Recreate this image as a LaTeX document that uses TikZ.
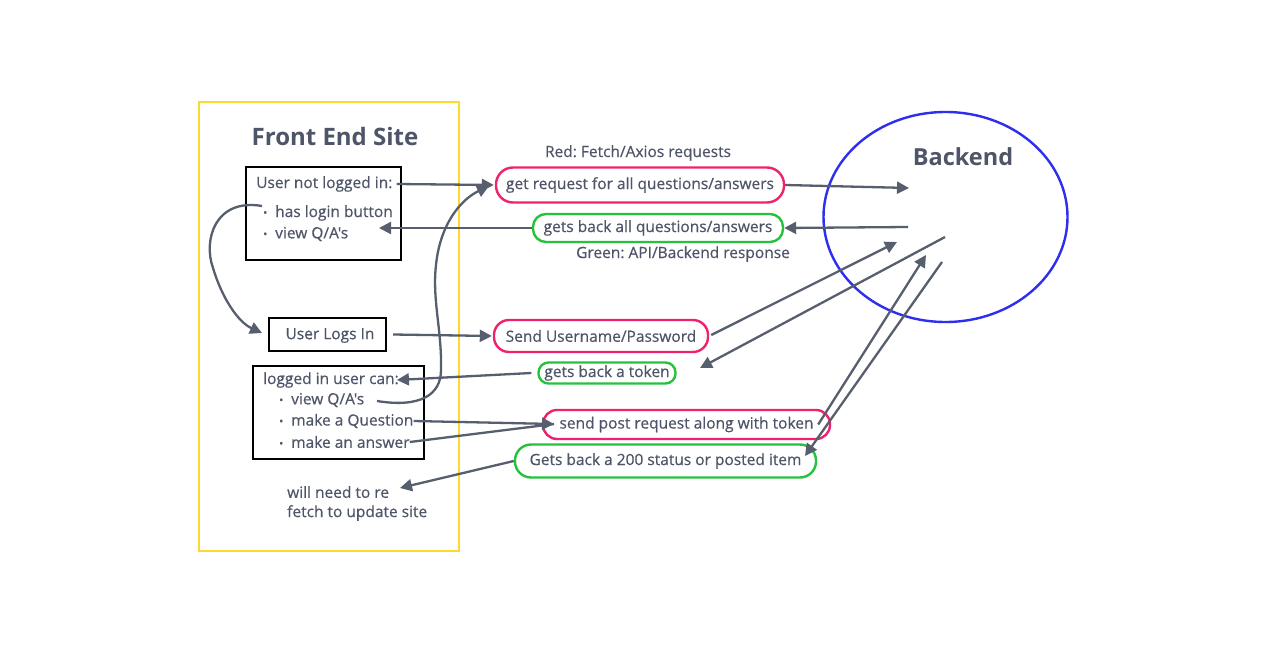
\documentclass[tikz,border=0pt]{standalone}
\usepackage{fontspec}
\setmainfont{Open Sans}
\newfontfamily\lblfont{Open Sans}[FakeBold=0.5]
\frenchspacing
\usetikzlibrary{arrows.meta,positioning,shapes.geometric}
\definecolor{txt}{HTML}{4F5568}
\definecolor{ln}{HTML}{575E6E}
\definecolor{ylw}{HTML}{FCD92C}
\definecolor{rd}{HTML}{F0226C}
\definecolor{gr}{HTML}{26C23C}
\definecolor{bl}{HTML}{2E2EEE}
\tikzset{
  lbl/.style={text=txt,inner sep=0pt,font=\lblfont\fontsize{15.5}{15.5}\selectfont},
  ttl/.style={text=txt,inner sep=0pt,font=\fontsize{24}{24}\selectfont\bfseries},
  blackbox/.style={draw=black,line width=2.4pt,inner sep=0pt},
  redpill/.style={draw=rd,line width=2.4pt,rounded corners=15pt,text=txt,inner sep=0pt,font=\lblfont\fontsize{15.5}{15.5}\selectfont},
  greenpill/.style={draw=gr,line width=2.4pt,rounded corners=13pt,text=txt,inner sep=0pt,font=\lblfont\fontsize{15.5}{15.5}\selectfont},
  conn/.style={draw=ln,line width=2.3pt,-{Triangle[length=12pt,width=12pt]}},
  plain/.style={draw=ln,line width=2.3pt},
}
\newcommand{\bul}{\makebox[12pt][l]{\fontsize{11}{11}\selectfont\raisebox{0.5pt}{•}}}
\begin{document}
\begin{tikzpicture}[x=1pt,y=-1pt]
\useasboundingbox (0,0) rectangle (1266,655);
\fill[white] (0,0) rectangle (1266,655);

% Front end frame
\node[draw=ylw,line width=2.4pt,minimum width=260pt,minimum height=449pt,inner sep=0pt] (fe) at (329,326.5) {};
\node[ttl] (fet) at (335,137) {Front End Site};

% Box 1
\node[blackbox,minimum width=155pt,minimum height=93pt] (box1) at (323.5,213.5) {};
\node[lbl,anchor=west] (t1a) at (256,184) {User not logged in:};
\node[lbl,anchor=west] (t1b) at (263,213) {\bul has login button};
\node[lbl,anchor=west] (t1c) at (263,234) {\bul view Q/A's};

% Box 2
\node[blackbox,minimum width=117pt,minimum height=33pt] (logs) at (327.5,334.5) {};
\node[lbl] (logst) at (330,335.5) {User Logs In};

% Box 3
\node[blackbox,minimum width=171pt,minimum height=93pt] (box3) at (338.5,412.5) {};
\node[lbl,anchor=west] (t3a) at (263,380) {logged in user can:};
\node[lbl,anchor=west] (t3b) at (279,400) {\bul view Q/A's};
\node[lbl,anchor=west] (t3c) at (279,421) {\bul make a Question};
\node[lbl,anchor=west] (t3d) at (279,442) {\bul make an answer};

% note
\node[lbl,anchor=west] (n1) at (287,492) {will need to re};
\node[lbl,anchor=west] (n2) at (287,513) {fetch to update site};

% legend
\node[lbl] (lr) at (638,153) {Red: Fetch/Axios requests};
\node[lbl] (lg) at (683,254) {Green: API/Backend response};

% pills
\node[redpill,minimum width=288pt,minimum height=35pt,rounded corners=17pt] (getreq) at (640,185) {get request for all questions/answers};
\node[greenpill,minimum width=250pt,minimum height=28pt] (getall) at (658,228) {gets back all questions/answers};
\node[redpill,minimum width=214pt,minimum height=32pt] (senduser) at (601,336) {Send Username/Password};
\node[greenpill,minimum width=137pt,minimum height=21pt,rounded corners=10pt] (token) at (607,373) {gets back a token};
\node[redpill,minimum width=287pt,minimum height=29pt,rounded corners=14pt] (sendpost) at (686.5,424.5) {send post request along with token};
\node[greenpill,minimum width=301pt,minimum height=33pt,rounded corners=16pt] (got200) at (665.5,461) {Gets back a 200 status or posted item};

% backend
\node[draw=bl,line width=2.4pt,ellipse,minimum width=244pt,minimum height=210pt,inner sep=0pt] (be) at (945.5,217) {};
\node[ttl,font=\fontsize{23.5}{23.5}\selectfont\bfseries] (bet) at (963,157) {Backend};

% coordinates
\coordinate (c1) at (909,188);
\coordinate (c2) at (908,227);
\coordinate (c3) at (379,228);
\coordinate (c4) at (897,242);
\coordinate (c5) at (945,237);
\coordinate (c6) at (700,368);
\coordinate (c7) at (554,424);
\coordinate (c8) at (926,255);
\coordinate (c9) at (942,262);
\coordinate (c10) at (805,456);
\coordinate (c11) at (400,488);
\coordinate (c12) at (262,206);
\coordinate (c13) at (377,401);
\coordinate (c14) at (489,186);

% connectors
\draw[conn] ([xshift=4pt]t1a.east) -- ([xshift=-1pt]getreq.west);
\draw[conn] (getreq.east) -- (c1);
\draw[conn] (c2) -- (getall.east);
\draw[conn] (getall.west) -- (c3);
\draw[conn] (c12) .. controls (215,198) and (203,240) .. (213,268) .. controls (222,298) and (238,322) .. (262,333);
\draw[conn] ([xshift=6pt]logs.east) -- ([xshift=-1pt]senduser.west);
\draw[conn] ([xshift=2pt,yshift=1pt]senduser.east) -- (c4);
\draw[conn] (c5) -- (c6);
\draw[conn] ([xshift=-6pt]token.west) -- ([xshift=-2pt]t3a.east);
\draw[conn] (c13) .. controls (420,408) and (441,395) .. (441,370) .. controls (442,330) and (432,300) .. (436,265) .. controls (440,225) and (460,200) .. (c14);
\draw[conn] (t3c.east) -- (c7);
\draw[plain] (t3d.east) -- (c7);
\draw[conn] ([xshift=-13pt]sendpost.east) -- (c8);
\draw[conn] (c9) -- (c10);
\draw[conn] (got200.west) -- (c11);
\end{tikzpicture}
\end{document}
